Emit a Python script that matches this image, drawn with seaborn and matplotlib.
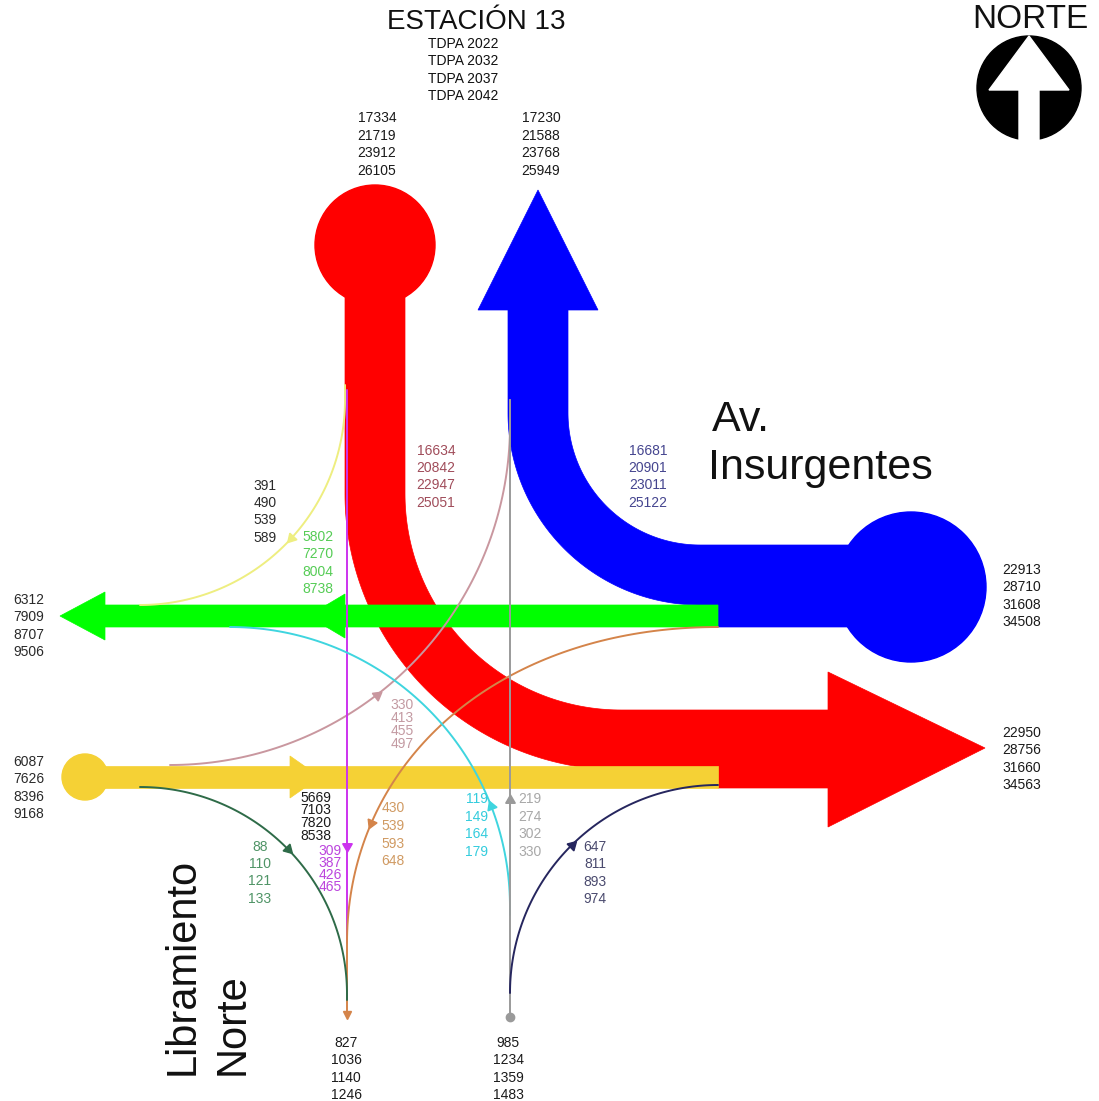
import numpy as np
import pandas as pd
import matplotlib
matplotlib.use("Agg")
import matplotlib.pyplot as plt
import seaborn as sns
from matplotlib.patches import Polygon, Circle

sns.set_theme(style="white")
plt.rcParams["font.family"] = ["Liberation Sans", "DejaVu Sans"]

# ---------------- data ----------------
title = "ESTACIÓN 13"
years = ["TDPA 2022", "TDPA 2032", "TDPA 2037", "TDPA 2042"]
north_in = [17334, 21719, 23912, 26105]
north_out = [17230, 21588, 23768, 25949]
north_to_east = [16634, 20842, 22947, 25051]
east_to_north = [16681, 20901, 23011, 25122]
north_to_west = [391, 490, 539, 589]
east_to_west = [5802, 7270, 8004, 8738]
west_out = [6312, 7909, 8707, 9506]
west_in = [6087, 7626, 8396, 9168]
west_to_north = [330, 413, 455, 497]
west_to_east = [5669, 7103, 7820, 8538]
north_to_south = [309, 387, 426, 465]
east_to_south = [430, 539, 593, 648]
south_to_west = [119, 149, 164, 179]
south_to_north = [219, 274, 302, 330]
south_to_east = [647, 811, 893, 974]
west_to_south = [88, 110, 121, 133]
south_out = [827, 1036, 1140, 1246]
south_in = [985, 1234, 1359, 1483]
east_in = [22913, 28710, 31608, 34508]
east_out = [22950, 28756, 31660, 34563]

RED, BLUE, GREEN, YELLOW = "#ff0000", "#0000ff", "#00ff00", "#f5d135"

# ---------------- figure ----------------
fig = plt.figure(figsize=(10.99, 11.01), dpi=100)
ax = fig.add_axes([0, 0, 1, 1])
ax.set_xlim(0, 1099)
ax.set_ylim(1101, 0)
ax.axis("off")


def arc(cx, cy, r, a0, a1, n=90):
    t = np.linspace(a0, a1, n)
    return np.column_stack([cx + r * np.cos(t), cy + r * np.sin(t)])


def seg(p0, p1, n=60):
    t = np.linspace(0, 1, n)[:, None]
    return (1 - t) * np.array(p0) + t * np.array(p1)


def bez(p0, p1, p2, p3, n=90):
    t = np.linspace(0, 1, n)[:, None]
    p0, p1, p2, p3 = map(np.array, (p0, p1, p2, p3))
    return (1 - t) ** 3 * p0 + 3 * (1 - t) ** 2 * t * p1 + 3 * (1 - t) * t ** 2 * p2 + t ** 3 * p3


def poly(pts, color, z):
    ax.add_patch(Polygon(np.vstack(pts), closed=True, facecolor=color,
                         edgecolor=color, linewidth=0.5, zorder=z))


# red flow (north -> east)
poly([[(345, 245), (345, 494)], arc(621, 494, 276, np.pi, np.pi / 2),
      [(718, 770), (718, 788), (828, 788), (828, 827), (985, 748), (828, 672), (828, 710), (621, 710)],
      arc(621, 494, 216, np.pi / 2, np.pi), [(405, 494), (405, 245)]], RED, 2)
ax.add_patch(Circle((375, 245), 60, facecolor=RED, edgecolor=RED, zorder=2))

# blue flow (east -> north)
poly([[(538, 190), (598, 310), (568, 310), (568, 413)], arc(700, 413, 132, np.pi, np.pi / 2),
      [(911, 545), (911, 627), (718, 627), (718, 605), (700, 605)],
      arc(700, 413, 192, np.pi / 2, np.pi), [(508, 310), (478, 310)]], BLUE, 2)
ax.add_patch(Circle((911, 587), 75, facecolor=BLUE, edgecolor=BLUE, zorder=2))

# green flow (-> west)
poly([[(60, 616), (105, 592), (105, 605), (718, 605), (718, 627), (105, 627), (105, 640)]], GREEN, 3)
poly([[(308, 616), (345, 594), (345, 638)]], GREEN, 3)

# yellow flow (west ->)
poly([[(85, 766), (718, 766), (718, 788), (85, 788)]], YELLOW, 3)
ax.add_patch(Circle((85, 777), 23, facecolor=YELLOW, edgecolor=YELLOW, zorder=3))
poly([[(290, 756), (320, 777), (290, 798)]], YELLOW, 3)

# ---------------- thin movements ----------------
curves = [
    (np.vstack([seg((345, 385), (345, 400), 5), arc(140, 400, 205, 0, np.pi / 2)]), "#eeee80", (290, 537)),
    (np.vstack([arc(170, 425, 340, np.pi / 2, 0), seg((510, 425), (510, 400), 5)]), "#c9979f", (385, 705)),
    (seg((347, 390), (347, 943), 200), "#cc33ee", (347, 847)),
    (np.vstack([bez((718, 627), (500, 627), (347, 760), (347, 943)), seg((347, 943), (347, 1017), 20)]),
     "#d4844a", (370, 823)),
    (np.vstack([seg((510, 915), (510, 907), 3), arc(230, 907, 280, 0, -np.pi / 2)]), "#3fd5df", (495, 803)),
    (seg((510, 1017), (510, 400), 200), "#9a9a9a", (510, 800)),
    (arc(718, 993, 208, np.pi, 3 * np.pi / 2), "#26265e", (573, 847)),
    (np.vstack([arc(140, 994, 207, -np.pi / 2, 0), seg((347, 994), (347, 1000), 3)]), "#2e6b48", (285, 850)),
]
for pts, col, mk in curves:
    df = pd.DataFrame({"x": pts[:, 0], "y": pts[:, 1]})
    sns.lineplot(data=df, x="x", y="y", sort=False, estimator=None,
                 color=col, linewidth=1.4, ax=ax, zorder=5, legend=False)
    d = np.hypot(pts[:, 0] - mk[0], pts[:, 1] - mk[1])
    i = int(np.clip(np.argmin(d), 1, len(pts) - 2))
    dx, dy = pts[i + 1] - pts[i - 1]
    ang = np.degrees(np.arctan2(-dy, dx)) - 90
    ax.plot([pts[i, 0]], [pts[i, 1]], marker=(3, 0, ang), markersize=8,
            color=col, markeredgecolor=col, zorder=6)

ax.plot([347], [1015], marker="v", markersize=6, color="#d4844a", zorder=6)
ax.plot([510], [1017], marker="o", markersize=6, color="#9a9a9a", zorder=6)

# ---------------- texts ----------------
ax.text(476, 22, title, ha="center", va="center", fontsize=20, color="#111111", zorder=8)
for k, s in enumerate(years):
    ax.text(463, 44 + 17.3 * k, s, ha="center", va="center", fontsize=10, color="#111111", zorder=8)

groups = [
    (north_in, 377, 118, 17.6, "#1a1a1a"),
    (north_out, 541, 118, 17.6, "#1a1a1a"),
    (north_to_east, 436, 451, 17.2, "#a04c5a"),
    (east_to_north, 648, 451, 17.2, "#45458f"),
    (north_to_west, 265, 486, 17.2, "#2a2a2a"),
    (east_to_west, 318, 537, 17.4, "#55cc55"),
    (west_out, 29, 600, 17.4, "#2a2a2a"),
    (west_in, 29, 762, 17.4, "#2a2a2a"),
    (west_to_north, 402, 705, 13.0, "#c39aa2"),
    (west_to_east, 316, 798, 12.5, "#1a1a1a"),
    (north_to_south, 330, 851, 12.0, "#bb44dd"),
    (east_to_south, 393, 808, 17.8, "#d09a62"),
    (south_to_west, 477, 799, 17.6, "#33ccdd"),
    (south_to_north, 530, 799, 17.6, "#a8a8a8"),
    (south_to_east, 595, 847, 17.4, "#4a4a6e"),
    (west_to_south, 260, 847, 17.2, "#4f9466"),
    (south_out, 346, 1043, 17.4, "#1a1a1a"),
    (south_in, 508, 1043, 17.4, "#1a1a1a"),
    (east_in, 1022, 570, 17.4, "#1a1a1a"),
    (east_out, 1022, 733, 17.4, "#1a1a1a"),
]
for vals, x, y0, dy, col in groups:
    for k, v in enumerate(vals):
        ax.text(x, y0 + dy * k, str(v), ha="center", va="center", fontsize=10,
                color=col, zorder=8)

ax.text(712, 420, "Av.", ha="left", va="center", fontsize=31, color="#111111", zorder=8)
ax.text(708, 468, "Insurgentes", ha="left", va="center", fontsize=31, color="#111111", zorder=8)
ax.text(183, 1075, "Libramiento", rotation=90, rotation_mode="anchor", ha="left", va="center",
        fontsize=30, color="#111111", zorder=8)
ax.text(233, 1075, "Norte", rotation=90, rotation_mode="anchor", ha="left", va="center",
        fontsize=30, color="#111111", zorder=8)

# north symbol
ax.text(1030, 19, "NORTE", ha="center", va="center", fontsize=24, color="#111111", zorder=8)
ax.add_patch(Circle((1029, 88), 52, facecolor="black", edgecolor="black", zorder=7))
ax.add_patch(Polygon([(1029, 36), (1069, 90), (1039, 90), (1039, 141), (1019, 141), (1019, 90), (989, 90)],
                     closed=True, facecolor="white", edgecolor="white", zorder=8))

fig.savefig("out.png", dpi=100)
